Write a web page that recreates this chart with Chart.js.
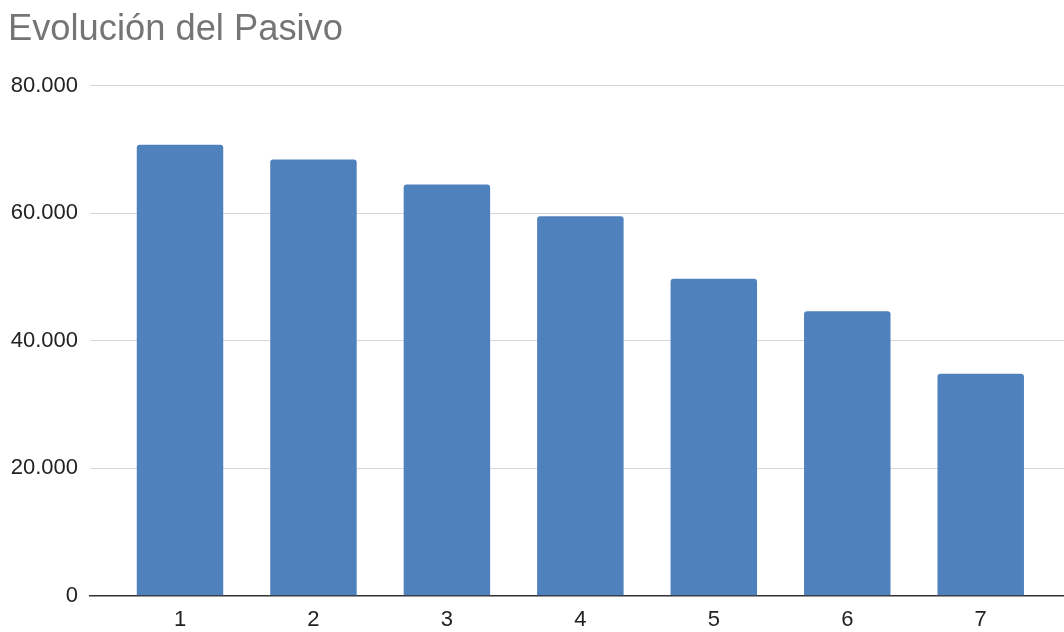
<!DOCTYPE html>
<html lang="es">
<head>
<meta charset="utf-8">
<title>Evolución del Pasivo</title>
<script src="https://cdn.jsdelivr.net/npm/chart.js@4"></script>
<style>
  html, body { margin: 0; padding: 0; background: #ffffff; }
  #wrap { width: 1064px; height: 632px; }
</style>
</head>
<body>
<div id="wrap"><canvas id="chart" width="1064" height="632"></canvas></div>
<script>
// Periods shown on the horizontal axis
const periodos = ['1', '2', '3', '4', '5', '6', '7'];
// Total liabilities per period
const pasivo = [70700, 68400, 64500, 59500, 49700, 44600, 34800];
// Vertical axis ticks
const ticksY = [0, 20000, 40000, 60000, 80000];

// thousands separator is a dot
const fmtNum = v => String(Math.round(v)).replace(/\B(?=(\d{3})+(?!\d))/g, '.');

const puntos = pasivo.map((v, i) => ({ x: i + 1, y: v }));

const FONT = "'Liberation Sans', Arial, sans-serif";

new Chart(document.getElementById('chart'), {
  type: 'bar',
  data: {
    datasets: [{
      label: 'Pasivo',
      data: puntos,
      backgroundColor: '#4f81bd',
      borderWidth: 0,
      borderRadius: { topLeft: 3, topRight: 3, bottomLeft: 0, bottomRight: 0 },
      borderSkipped: 'bottom',
      categoryPercentage: 1,
      barPercentage: 0.648
    }]
  },
  options: {
    responsive: false,
    animation: false,
    devicePixelRatio: 1,
    layout: { padding: { left: 8, right: 0, top: 0, bottom: 0 } },
    plugins: {
      legend: { display: false },
      tooltip: { enabled: false },
      title: {
        display: true,
        text: 'Evolución del Pasivo',
        align: 'start',
        color: '#757575',
        font: { family: FONT, size: 36.3, weight: 'normal' },
        padding: { top: 8, bottom: 34 }
      }
    },
    scales: {
      x: {
        type: 'linear',
        offset: false,
        min: 0.3256,
        max: 7.624,
        grid: { display: false, drawTicks: false },
        border: { display: true, color: '#333333', width: 1.5 },
        afterBuildTicks: s => { s.ticks = periodos.map((p, i) => ({ value: i + 1 })); },
        afterFit: s => { s.height = 36.3; },
        ticks: {
          color: '#222222',
          padding: 11,
          autoSkip: false,
          maxRotation: 0,
          font: { family: FONT, size: 22 },
          callback: v => periodos[v - 1] ?? ''
        }
      },
      y: {
        min: 0,
        max: 80000,
        afterBuildTicks: s => { s.ticks = ticksY.map(v => ({ value: v })); },
        afterFit: s => { s.width = 82; },
        grid: { color: '#d6d6d6', lineWidth: 1, drawTicks: false },
        border: { display: false },
        ticks: {
          color: '#222222',
          padding: 12,
          font: { family: FONT, size: 22 },
          callback: v => fmtNum(v)
        }
      }
    }
  }
});
</script>
</body>
</html>
